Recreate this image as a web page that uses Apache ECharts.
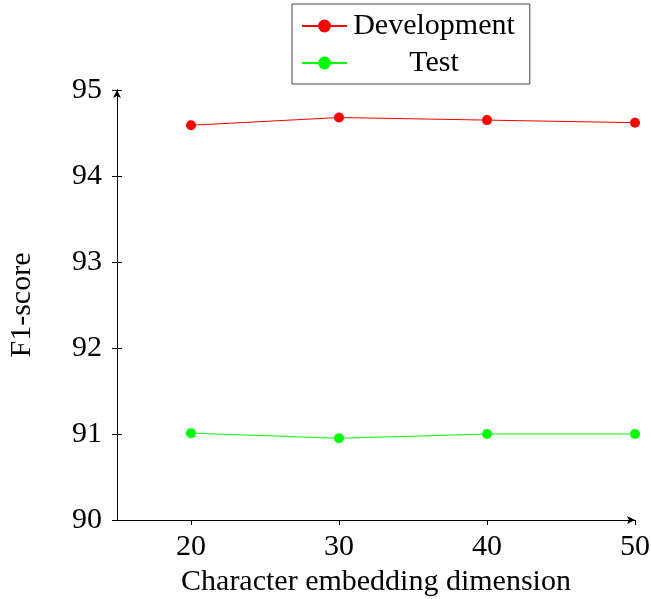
<!DOCTYPE html>
<html>
<head>
<meta charset="utf-8">
<script src="https://cdn.jsdelivr.net/npm/echarts@6/dist/echarts.min.js"></script>
<style>
  html, body { margin: 0; padding: 0; background: #fff; }
  #chart { width: 651px; height: 599px; }
</style>
</head>
<body>
<div id="chart"></div>
<script>
// values
const dims = [20, 30, 40, 50];
const devScores = [94.59, 94.68, 94.65, 94.62];
const testScores = [91.01, 90.95, 91.0, 91.0];
const xTicks = [20, 30, 40, 50];

const font = 'Liberation Serif';
const fs = 30;
const chart = echarts.init(document.getElementById('chart'));

const pairs = (xs, ys) => xs.map((x, i) => [x, ys[i]]);

const yBase = {
    type: 'value', min: 90, max: 95, interval: 1,
    axisLine: { show: true, lineStyle: { color: '#000', width: 1 } },
    splitLine: { show: false }
};

chart.setOption({
    animation: false,
    grid: { left: 117, right: 16, top: 90, bottom: 79, outerBoundsMode: 'none', containLabel: false },
    legend: {
        orient: 'vertical', left: 292, top: 4,
        padding: [7, 15, 6, 9], itemGap: 7,
        itemWidth: 45, itemHeight: 16,
        borderColor: '#444', borderWidth: 1,
        data: ['Development', 'Test'],
        formatter: name => '{t|' + name + '}',
        textStyle: {
            rich: { t: { width: 164, height: 30, align: 'center', fontFamily: font, fontSize: fs, color: '#000' } }
        }
    },
    xAxis: {
        type: 'value', min: 15, max: 50, interval: 5,
        name: 'Character embedding dimension',
        nameLocation: 'middle', nameGap: 43,
        nameTextStyle: { fontFamily: font, fontSize: fs, color: '#000' },
        axisLine: { show: true, lineStyle: { color: '#000', width: 1 }, symbol: ['none', 'arrow'], symbolSize: [6, 8] },
        axisTick: { show: true, inside: false, length: 5, customValues: xTicks, lineStyle: { color: '#000' } },
        axisLabel: { customValues: xTicks, margin: 12, fontFamily: font, fontSize: fs, color: '#000' },
        splitLine: { show: false }
    },
    yAxis: [
        Object.assign({}, yBase, {
            name: 'F1-score', nameLocation: 'middle', nameGap: 80,
            nameTextStyle: { fontFamily: font, fontSize: fs, color: '#000' },
            axisLine: { show: true, lineStyle: { color: '#000', width: 1 }, symbol: ['none', 'arrow'], symbolSize: [6, 8] },
            axisTick: { show: true, inside: false, length: 5, lineStyle: { color: '#000' } },
            axisLabel: { margin: 15, fontFamily: font, fontSize: fs, color: '#000' }
        }),
        Object.assign({}, yBase, {
            position: 'left',
            axisTick: { show: true, inside: true, length: 5, lineStyle: { color: '#000' } },
            axisLabel: { show: false }
        })
    ],
    series: [
        {
            name: 'Development', type: 'line', data: pairs(dims, devScores),
            symbol: 'circle', symbolSize: 10,
            lineStyle: { color: '#ff0000', width: 1 },
            itemStyle: { color: '#ff0000' }
        },
        {
            name: 'Test', type: 'line', data: pairs(dims, testScores),
            symbol: 'circle', symbolSize: 10,
            lineStyle: { color: '#00ff00', width: 1 },
            itemStyle: { color: '#00ff00' }
        }
    ]
});
</script>
</body>
</html>
